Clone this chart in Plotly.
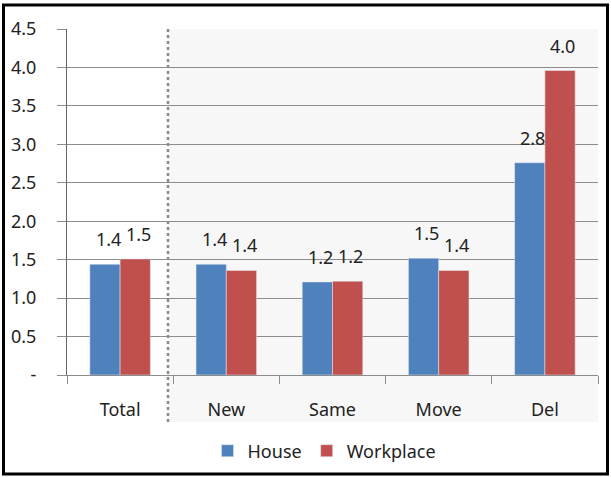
import plotly.graph_objects as go

# Chart data
categories = ["Total", "New", "Same", "Move", "Del"]
house = [1.44, 1.44, 1.21, 1.52, 2.76]
workplace = [1.51, 1.36, 1.22, 1.36, 3.96]
y_tickvals = [0, 0.5, 1.0, 1.5, 2.0, 2.5, 3.0, 3.5, 4.0, 4.5]
y_ticktext = ["-", "0.5", "1.0", "1.5", "2.0", "2.5", "3.0", "3.5", "4.0", "4.5"]

BLUE = "#4F81BD"
RED = "#C0504D"
GRID = "#8C8C8C"
FONT = "Noto Sans"
FS = 18

W, H = 611, 477
ML, MR, MT, MB = 67, 13, 29, 102
PW, PH = W - ML - MR, H - MT - MB


def px_x(p):
    return (p - ML) / PW


def px_y(p):
    return (H - MB - p) / PH


fig = go.Figure()
fig.add_trace(go.Bar(x=categories, y=house, name="House", marker_color=BLUE))
fig.add_trace(go.Bar(x=categories, y=workplace, name="Workplace", marker_color=RED))

# value labels above each bar
annotations = []
for cat, hv, wv in zip(categories, house, workplace):
    for val, shift in ((hv, -12), (wv, 18)):
        annotations.append(dict(
            x=cat, y=val, xref="x", yref="y", text=f"{val:.1f}",
            showarrow=False, yanchor="bottom", xshift=shift, yshift=11,
            font=dict(family=FONT, size=FS, color="#222"),
        ))

shapes = [
    # shaded region for the sub-categories
    dict(type="rect", xref="paper", yref="paper",
         x0=px_x(168), x1=1.0, y0=px_y(422), y1=1.0,
         fillcolor="#F7F7F7", line_width=0, layer="below"),
    # dotted separator after "Total"
    dict(type="line", xref="paper", yref="paper",
         x0=px_x(168), x1=px_x(168), y0=px_y(422), y1=1.0,
         line=dict(color="#8A8A8A", width=2.5, dash="dot")),
    # outer frame
    dict(type="rect", xref="paper", yref="paper",
         x0=px_x(3.5), x1=px_x(607.5), y0=px_y(474), y1=px_y(5),
         line=dict(color="black", width=3), fillcolor="rgba(0,0,0,0)"),
]

fig.update_layout(
    width=W, height=H,
    margin=dict(l=ML, r=MR, t=MT, b=MB, autoexpand=False),
    paper_bgcolor="white", plot_bgcolor="rgba(0,0,0,0)",
    barmode="group", bargap=0.43, bargroupgap=0,
    font=dict(family=FONT, size=FS, color="#222"),
    showlegend=True,
    legend=dict(orientation="h", x=0.485, xanchor="center", y=px_y(451),
                yanchor="middle", font=dict(size=FS), itemwidth=30,
                bgcolor="rgba(0,0,0,0)"),
    annotations=annotations,
    shapes=shapes,
    xaxis=dict(
        type="category", tickson="boundaries", ticks="outside", ticklen=8,
        tickcolor=GRID, showline=True, linecolor=GRID, linewidth=1,
        showgrid=False, ticklabelstandoff=18, automargin=False,
        tickfont=dict(size=FS),
    ),
    yaxis=dict(
        range=[0, 4.5], tickvals=y_tickvals, ticktext=y_ticktext,
        ticks="outside", ticklen=9, tickcolor=GRID,
        showline=True, linecolor="#666", linewidth=1,
        showgrid=True, gridcolor=GRID, gridwidth=1, zeroline=False,
        ticklabelstandoff=17, tickfont=dict(size=FS), automargin=False,
    ),
)

fig.write_html("out.html")
